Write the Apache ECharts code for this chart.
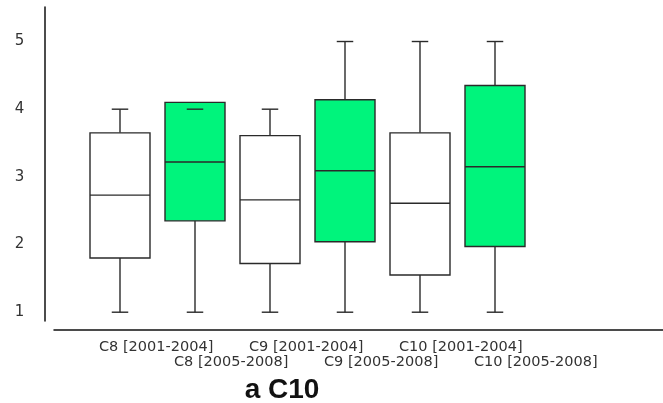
<!DOCTYPE html>
<html>
<head>
<meta charset="utf-8">
<style>
  html, body { margin: 0; padding: 0; background: #ffffff; }
  #chart { width: 663px; height: 403px; }
</style>
<script src="https://cdn.jsdelivr.net/npm/echarts@6/dist/echarts.min.js"></script>
</head>
<body>
<div id="chart"></div>
<script>
// Groups (indicator by period)
const categories = [
  'C8 [2001-2004]', 'C8 [2005-2008]',
  'C9 [2001-2004]', 'C9 [2005-2008]',
  'C10 [2001-2004]', 'C10 [2005-2008]'
];
// Five-number summaries per group
const minValues    = [1, 1, 1, 1, 1, 1];
const q1Values     = [1.80, 2.35, 1.72, 2.04, 1.55, 1.97];
const medianValues = [2.73, 3.22, 2.66, 3.09, 2.61, 3.15];
const q3Values     = [3.65, 4.10, 3.61, 4.14, 3.65, 4.35];
const maxValues    = [4, 4, 4, 5, 5, 5];
// Value axis labels
const yTickLabels = [1, 2, 3, 4, 5];

const chartTitle = 'a C10';

const boxRows = categories.map((c, i) =>
  [i, minValues[i], q1Values[i], medianValues[i], q3Values[i], maxValues[i]]);

const STROKE = '#2a2a2a';
const LATER_FILL = '#00f47c';
const EARLIER_FILL = '#ffffff';

const chart = echarts.init(document.getElementById('chart'), null, { renderer: 'canvas' });

const option = {
  backgroundColor: '#ffffff',
  animation: false,
  title: {
    text: chartTitle,
    left: 277,
    top: 371,
    textAlign: 'center',
    textStyle: {
      fontFamily: 'Liberation Sans, Arial, sans-serif',
      fontWeight: 'bold',
      fontSize: 28,
      color: '#111111'
    }
  },
  grid: [
    // boxes
    { left: 82.5, width: 450, top: 7, bottom: 82, containLabel: false },
    // long horizontal axis line
    { left: 54, right: 0, top: 7, bottom: 73.7, containLabel: false },
    // category labels
    { left: 61.5, width: 450, top: 7, bottom: 74, containLabel: false }
  ],
  xAxis: [
    {
      gridIndex: 0, type: 'category', data: categories,
      axisLine: { show: false }, axisTick: { show: false },
      axisLabel: { show: false }, splitLine: { show: false }
    },
    {
      gridIndex: 1, type: 'value', min: 0, max: 1,
      axisLine: { show: true, onZero: false, lineStyle: { color: '#111111', width: 1.5 } },
      axisTick: { show: false }, axisLabel: { show: false }, splitLine: { show: false }
    },
    {
      gridIndex: 2, type: 'category', data: categories,
      axisLine: { show: false }, axisTick: { show: false }, splitLine: { show: false },
      axisLabel: {
        interval: 0,
        hideOverlap: false,
        align: 'left',
        margin: 11,
        fontFamily: 'DejaVu Sans, sans-serif',
        fontSize: 14.5,
        lineHeight: 15,
        color: '#333333',
        formatter: (value, index) => (index % 2 === 1 ? '\n' + value : value)
      }
    }
  ],
  yAxis: [
    {
      gridIndex: 0, type: 'value', min: 0.87, max: 5.51,
      position: 'left', offset: 38.2,
      axisLine: { show: true, lineStyle: { color: '#111111', width: 1.5 } },
      axisTick: { show: false },
      splitLine: { show: false },
      axisLabel: {
        customValues: yTickLabels,
        margin: 20,
        fontFamily: 'DejaVu Sans, sans-serif',
        fontSize: 15,
        color: '#333333'
      }
    },
    { gridIndex: 1, type: 'value', show: false, min: 0, max: 1 },
    { gridIndex: 2, type: 'value', show: false, min: 0, max: 1 }
  ],
  series: [
    {
      type: 'custom',
      xAxisIndex: 0,
      yAxisIndex: 0,
      data: boxRows,
      encode: { x: 0, y: [1, 2, 3, 4, 5] },
      renderItem: function (params, api) {
        const idx = api.value(0);
        const pLo  = api.coord([idx, api.value(1)]);
        const pQ1  = api.coord([idx, api.value(2)]);
        const pMed = api.coord([idx, api.value(3)]);
        const pQ3  = api.coord([idx, api.value(4)]);
        const pHi  = api.coord([idx, api.value(5)]);
        const band = api.size([1, 0])[0];
        const boxW = band * 0.8;
        const capW = band * 0.22;
        const cx = pLo[0];
        const fill = categories[idx].indexOf('2005') >= 0 ? LATER_FILL : EARLIER_FILL;
        const line = { stroke: STROKE, lineWidth: 1.4 };
        return {
          type: 'group',
          children: [
            { type: 'line', shape: { x1: cx, y1: pQ1[1], x2: cx, y2: pLo[1] }, style: line },
            { type: 'line', shape: { x1: cx, y1: pQ3[1], x2: cx, y2: pHi[1] }, style: line },
            {
              type: 'rect',
              shape: { x: cx - boxW / 2, y: pQ3[1], width: boxW, height: pQ1[1] - pQ3[1] },
              style: { fill: fill, stroke: STROKE, lineWidth: 1.4 }
            },
            { type: 'line', shape: { x1: cx - boxW / 2, y1: pMed[1], x2: cx + boxW / 2, y2: pMed[1] }, style: line },
            { type: 'line', shape: { x1: cx - capW / 2, y1: pLo[1], x2: cx + capW / 2, y2: pLo[1] }, style: line },
            { type: 'line', shape: { x1: cx - capW / 2, y1: pHi[1], x2: cx + capW / 2, y2: pHi[1] }, style: line }
          ]
        };
      }
    }
  ]
};

chart.setOption(option);
</script>
</body>
</html>
